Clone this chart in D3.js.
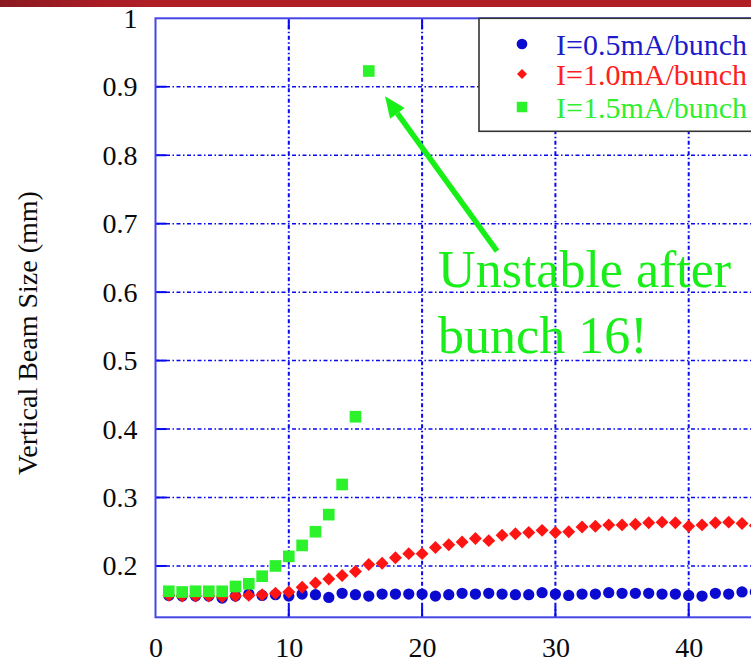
<!DOCTYPE html>
<html>
<head>
<meta charset="utf-8">
<script src="https://cdn.jsdelivr.net/npm/d3@7"></script>
<style>
  body { margin: 0; background: #fff; }
  svg { display: block; font-family: "Liberation Serif", "Times New Roman", serif; }
</style>
</head>
<body>
<svg id="chart" width="751" height="661"></svg>
<script>
// Bunch number along the train
const bunchNumbers = [1,2,3,4,5,6,7,8,9,10,11,12,13,14,15,16,17,18,19,20,21,22,23,
  24,25,26,27,28,29,30,31,32,33,34,35,36,37,38,39,40,41,42,43,44,45];

// Vertical beam size (mm) per bunch, for three bunch currents
const sizeI05 = [0.157,0.156,0.156,0.156,0.153,0.156,0.159,0.157,0.158,0.156,0.159,0.158,
  0.154,0.160,0.158,0.156,0.159,0.159,0.159,0.159,0.156,0.158,0.160,0.159,0.160,0.159,
  0.158,0.158,0.161,0.159,0.157,0.159,0.159,0.161,0.160,0.160,0.160,0.159,0.159,0.157,
  0.156,0.160,0.159,0.162,0.162];
const sizeI10 = [0.157,0.156,0.156,0.156,0.155,0.156,0.157,0.158,0.160,0.162,0.169,0.175,
  0.181,0.186,0.192,0.202,0.204,0.212,0.218,0.218,0.227,0.231,0.235,0.240,0.237,0.245,
  0.247,0.249,0.252,0.249,0.250,0.257,0.258,0.260,0.260,0.261,0.263,0.264,0.263,0.258,
  0.260,0.263,0.264,0.262,0.259];
// 1.5 mA/bunch: beam lost after bunch 16
const sizeI15 = [0.163,0.162,0.163,0.163,0.163,0.170,0.174,0.185,0.200,0.214,0.230,0.250,
  0.275,0.319,0.418,0.923];

const xTicks = [0,10,20,30,40,50];
const yTicks = [0.2,0.3,0.4,0.5,0.6,0.7,0.8,0.9,1];
const seriesNames = ["I=0.5mA/bunch","I=1.0mA/bunch","I=1.5mA/bunch"];
const annotationLines = ["Unstable after","bunch 16!"];

const svg = d3.select("#chart");

const x = d3.scaleLinear().domain([0, 50]).range([155.5, 822]);
const y = d3.scaleLinear().domain([0.125, 1]).range([617.3, 18.3]);

const gridColor = "#0808ee";
const axisColor = "#4646e6";
const serif = "Liberation Serif, Times New Roman, serif";

// slide banner strip
const bannerGrad = svg.append("defs").append("linearGradient")
  .attr("id", "banner").attr("x1", 0).attr("x2", 1);
bannerGrad.append("stop").attr("offset", 0).attr("stop-color", "#8a1a20");
bannerGrad.append("stop").attr("offset", 0.13).attr("stop-color", "#a81c24");
bannerGrad.append("stop").attr("offset", 0.2).attr("stop-color", "#b01e26");
bannerGrad.append("stop").attr("offset", 1).attr("stop-color", "#b01e26");
svg.append("rect").attr("x", 0).attr("y", 0).attr("width", 751).attr("height", 7)
  .attr("fill", "url(#banner)");

// grid
const grid = svg.append("g");
grid.selectAll("line.h").data(yTicks.filter(v => v < 1)).join("line")
  .attr("x1", x(0)).attr("x2", x(50))
  .attr("y1", d => y(d)).attr("y2", d => y(d))
  .attr("stroke", gridColor).attr("stroke-width", 1.5)
  .attr("stroke-dasharray", "4,2.5,1.5,2.5");
grid.selectAll("line.v").data(xTicks.filter(v => v > 0 && v < 50)).join("line")
  .attr("x1", d => x(d)).attr("x2", d => x(d))
  .attr("y1", y(0.125)).attr("y2", y(1))
  .attr("stroke", gridColor).attr("stroke-width", 2)
  .attr("stroke-dasharray", "4,2.5,1.5,2.5");

// axes (ticks pointing inward)
const yAxis = d3.axisLeft(y).tickValues(yTicks).tickSize(0).tickPadding(18)
  .tickFormat(d3.format("~g"));
const gy = svg.append("g").attr("transform", `translate(${x(0)},0)`).call(yAxis);
gy.select(".domain").remove();
gy.selectAll("text").attr("font-size", 28).attr("fill", "#0a0a0a")
  .attr("font-family", serif);

const xAxis = d3.axisBottom(x).tickValues(xTicks).tickSize(0).tickPadding(20)
  .tickFormat(d3.format("d"));
const gx = svg.append("g").attr("transform", `translate(0,${y(0.125)})`).call(xAxis);
gx.select(".domain").remove();
gx.selectAll("text").attr("font-size", 28).attr("fill", "#0a0a0a")
  .attr("font-family", serif);

// inward tick marks
const tk = svg.append("g").attr("stroke", gridColor).attr("stroke-width", 2);
tk.selectAll("line.yl").data(yTicks.filter(v => v < 1)).join("line")
  .attr("x1", x(0)).attr("x2", x(0) + 11)
  .attr("y1", d => y(d)).attr("y2", d => y(d));
tk.selectAll("line.xb").data(xTicks.filter(v => v > 0)).join("line")
  .attr("x1", d => x(d)).attr("x2", d => x(d))
  .attr("y1", y(0.125)).attr("y2", y(0.125) - 11);
tk.selectAll("line.xt").data(xTicks.filter(v => v > 0)).join("line")
  .attr("x1", d => x(d)).attr("x2", d => x(d))
  .attr("y1", y(1)).attr("y2", y(1) + 11);

// plot frame
svg.append("rect")
  .attr("x", x(0)).attr("y", y(1))
  .attr("width", x(50) - x(0)).attr("height", y(0.125) - y(1))
  .attr("fill", "none").attr("stroke", axisColor).attr("stroke-width", 2);

// y axis title
svg.append("text")
  .attr("transform", `translate(37,333) rotate(-90)`)
  .attr("text-anchor", "middle")
  .attr("font-size", 28).attr("fill", "#0a0a0a")
  .text("Vertical Beam Size (mm)");

// markers
const circleSym = d3.symbol().type(d3.symbolCircle).size(100);
const diamondSym = d3.symbol().type(d3.symbolSquare).size(84);
const squareSym = d3.symbol().type(d3.symbolSquare).size(136);

const colors = ["#0a0ad0", "#ff1414", "#2cf22c"];

svg.append("g").selectAll("path").data(sizeI05).join("path")
  .attr("d", circleSym)
  .attr("transform", (d, i) => `translate(${x(bunchNumbers[i])},${y(d)})`)
  .attr("fill", colors[0]);

svg.append("g").selectAll("path").data(sizeI10).join("path")
  .attr("d", diamondSym)
  .attr("transform", (d, i) => `translate(${x(bunchNumbers[i])},${y(d)}) rotate(45)`)
  .attr("fill", colors[1]);

svg.append("g").selectAll("path").data(sizeI15).join("path")
  .attr("d", squareSym)
  .attr("transform", (d, i) => `translate(${x(bunchNumbers[i])},${y(d)})`)
  .attr("fill", colors[2]);

// legend
const legend = svg.append("g");
legend.append("rect")
  .attr("x", 479).attr("y", y(1))
  .attr("width", 300).attr("height", 113)
  .attr("fill", "#fff").attr("stroke", "#333").attr("stroke-width", 1.6);
const legendSyms = [
  d3.symbol().type(d3.symbolCircle).size(90),
  d3.symbol().type(d3.symbolSquare).size(50),
  d3.symbol().type(d3.symbolSquare).size(110)
];
const legendRows = [44, 74, 107];
seriesNames.forEach((name, i) => {
  legend.append("path")
    .attr("d", legendSyms[i])
    .attr("transform", `translate(522,${legendRows[i]})` + (i === 1 ? " rotate(45)" : ""))
    .attr("fill", colors[i]);
  legend.append("text")
    .attr("x", 556).attr("y", legendRows[i] + 10.5)
    .attr("font-size", 30)
    .attr("fill", i === 0 ? "#1c1cc8" : i === 1 ? "#ff2020" : "#30ee30")
    .text(name);
});

// annotation arrow pointing at bunch 16
const annoColor = "#16f016";
const tip = [x(17.22), y(0.886)];
const tail = [x(25.62), y(0.660)];
const ang = Math.atan2(tip[1] - tail[1], tip[0] - tail[0]);
const headLen = 21, headHalf = 9;
const base = [tip[0] - headLen * Math.cos(ang), tip[1] - headLen * Math.sin(ang)];
svg.append("line")
  .attr("x1", tail[0]).attr("y1", tail[1])
  .attr("x2", base[0]).attr("y2", base[1])
  .attr("stroke", annoColor).attr("stroke-width", 5.5);
svg.append("path")
  .attr("d", d3.line()([
    tip,
    [base[0] + headHalf * Math.sin(ang), base[1] - headHalf * Math.cos(ang)],
    [base[0] - headHalf * Math.sin(ang), base[1] + headHalf * Math.cos(ang)]
  ]) + "Z")
  .attr("fill", annoColor);

svg.append("g").selectAll("text").data(annotationLines).join("text")
  .attr("x", x(21.2))
  .attr("y", (d, i) => y(0.6075) + i * 66)
  .attr("font-size", 52)
  .attr("fill", "#1aee1a")
  .text(d => d);
</script>
</body>
</html>
